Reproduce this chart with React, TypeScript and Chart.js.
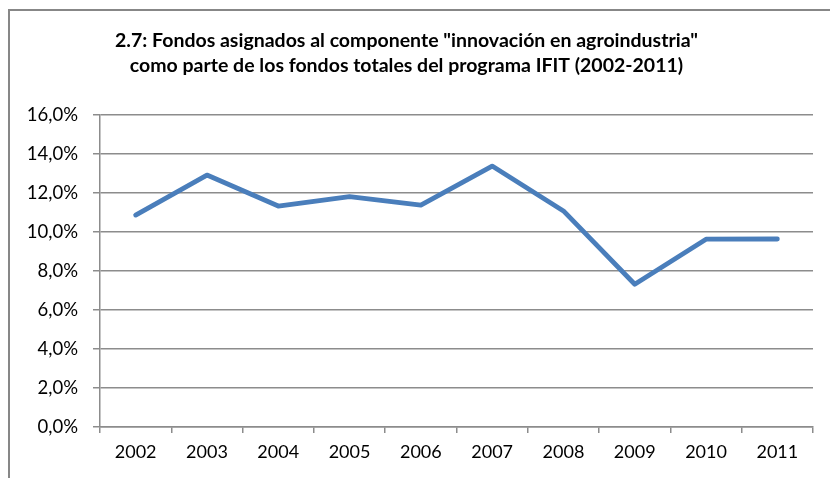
import React, { useEffect, useRef } from "react";
import { Chart, registerables } from "chart.js";

Chart.register(...registerables);

const titleLines = [
  '2.7: Fondos asignados al componente "innovación en agroindustria"',
  "como parte de los fondos totales del programa IFIT (2002-2011)",
];
const years = ["2002", "2003", "2004", "2005", "2006", "2007", "2008", "2009", "2010", "2011"];
const shareValues = [10.87, 12.92, 11.33, 11.81, 11.38, 13.38, 11.08, 7.32, 9.63, 9.64];
const yMin = 0;
const yMax = 16;
const yStep = 2;

const GRID = "#8c8c8c";
const LINE = "#4a7ebb";
const FONT = "Lato, 'Open Sans', sans-serif";

export default function App() {
  const ref = useRef<HTMLCanvasElement | null>(null);

  useEffect(() => {
    if (!ref.current) return;
    const chart = new Chart(ref.current, {
      type: "line",
      data: {
        labels: years,
        datasets: [
          {
            data: shareValues,
            borderColor: LINE,
            borderWidth: 4.8,
            pointRadius: 0,
            tension: 0,
            fill: false,
            borderCapStyle: "round",
            borderJoinStyle: "round",
          },
        ],
      },
      options: {
        responsive: false,
        animation: false,
        devicePixelRatio: 1,
        layout: { padding: { left: 0, right: 17, top: 0, bottom: 0 } },
        plugins: {
          legend: { display: false },
          tooltip: { enabled: false },
          title: {
            display: true,
            text: titleLines,
            color: "#000",
            font: { family: FONT, size: 19.5, weight: "bold", lineHeight: 25 / 19.5 },
            padding: { top: 28.5, bottom: 36.5 },
          },
        },
        scales: {
          x: {
            type: "category",
            offset: true,
            grid: {
              offset: true,
              drawOnChartArea: false,
              drawTicks: true,
              tickLength: 6,
              color: GRID,
              lineWidth: 1.5,
            },
            border: { display: true, color: GRID, width: 1.5 },
            ticks: {
              color: "#000",
              font: { family: FONT, size: 18 },
              padding: 8,
              maxRotation: 0,
              autoSkip: false,
            },
            afterFit: (s: any) => {
              s.height = 51;
            },
          },
          y: {
            min: yMin,
            max: yMax,
            grid: {
              color: GRID,
              lineWidth: 1.5,
              drawTicks: true,
              tickLength: 7,
            },
            border: { display: true, color: GRID, width: 1.5 },
            ticks: {
              stepSize: yStep,
              color: "#000",
              font: { family: FONT, size: 18.5 },
              padding: 15,
              callback: (v: any) => Number(v).toFixed(1).replace(".", ",") + "%",
            },
            afterFit: (s: any) => {
              s.width = 100;
            },
          },
        },
      },
    });
    return () => chart.destroy();
  }, []);

  return (
    <div
      style={{
        position: "fixed",
        left: 0,
        top: 0,
        width: 830,
        height: 478,
        overflow: "hidden",
        background: "#fff",
      }}
    >
      <div
        style={{
          position: "absolute",
          left: 8,
          top: 9,
          width: 900,
          height: 600,
          borderLeft: "2px solid #878787",
          borderTop: "2px solid #878787",
        }}
      />
      <canvas
        ref={ref}
        width={830}
        height={478}
        style={{ position: "absolute", left: 0, top: 0, width: 830, height: 478 }}
      />
    </div>
  );
}
